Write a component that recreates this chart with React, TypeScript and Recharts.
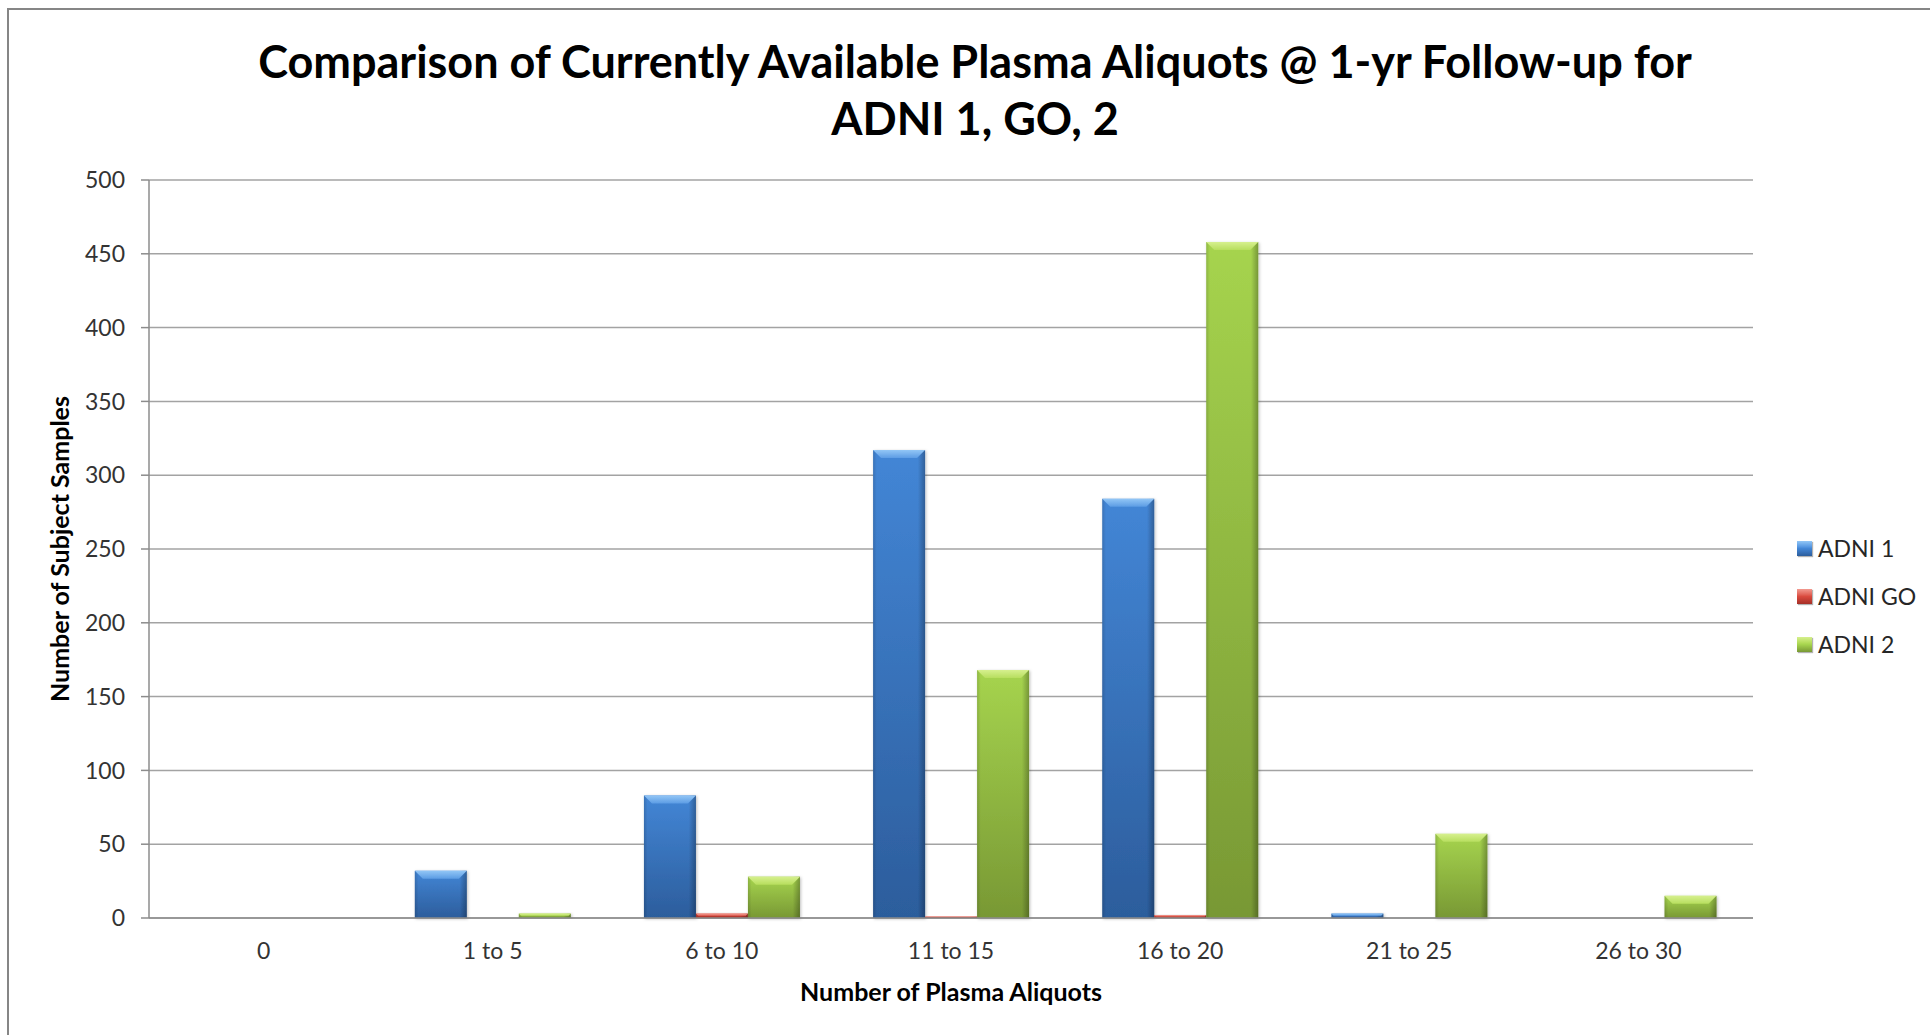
import React from 'react';
import { BarChart, Bar, XAxis, YAxis, CartesianGrid, Legend, Label } from 'recharts';

// ── Data ──────────────────────────────────────────────────────────────────────

const CATEGORIES = ['0', '1 to 5', '6 to 10', '11 to 15', '16 to 20', '21 to 25', '26 to 30'];
const ADNI_1 = [0, 32, 83, 317, 284, 3, 0];
const ADNI_GO = [0, 0, 3, 1, 2, 0, 0];
const ADNI_2 = [0, 3, 28, 168, 458, 57, 15];
const Y_TICKS = [0, 50, 100, 150, 200, 250, 300, 350, 400, 450, 500];

const data = CATEGORIES.map((name, i) => ({
  name,
  adni1: ADNI_1[i],
  adniGo: ADNI_GO[i],
  adni2: ADNI_2[i],
}));

// ── Palette ───────────────────────────────────────────────────────────────────

const TONES: Record<string, { top: string; bottom: string; hi: string; lo: string }> = {
  blue:  { top: '#4386d6', bottom: '#2c5d9c', hi: '#92c6f6', lo: '#5c9ce4' },
  red:   { top: '#d94a3e', bottom: '#a52f27', hi: '#f29a90', lo: '#e2665a' },
  green: { top: '#a6d44e', bottom: '#789834', hi: '#d6f08e', lo: '#b7de5e' },
};

const SERIES = [
  { key: 'adni1', name: 'ADNI 1', tone: 'blue' },
  { key: 'adniGo', name: 'ADNI GO', tone: 'red' },
  { key: 'adni2', name: 'ADNI 2', tone: 'green' },
];

const FONT = 'Lato, "Open Sans", sans-serif';

// ── Bevelled bar shape ───────────────────────────────────────────────────────

function BevelBar(props: any) {
  const { x, y, width, height, tone } = props;
  if (!height || height <= 0) return null;
  const b = Math.min(8, height / 2, width / 4);
  return (
    <g filter="url(#barShadow)">
      <rect x={x} y={y} width={width} height={height} fill={`url(#${tone}-body)`} />
      <rect x={x} y={y} width={width} height={height} fill="url(#side-shade)" />
      <polygon
        points={`${x},${y} ${x + width},${y} ${x + width - b},${y + b} ${x + b},${y + b}`}
        fill={`url(#${tone}-top)`}
      />
    </g>
  );
}

// ── Legend ────────────────────────────────────────────────────────────────────

function LegendList({ payload }: any) {
  // keep series order (the legend sorts by name otherwise)
  const items = [...(payload ?? [])].sort(
    (a: any, b: any) =>
      SERIES.findIndex((s) => s.name === a.value) - SERIES.findIndex((s) => s.name === b.value),
  );
  return (
    <div style={{ display: 'flex', flexDirection: 'column', fontFamily: FONT }}>
      {items.map((p: any) => {
        const s = SERIES.find((d) => d.name === p.value);
        const t = TONES[s?.tone ?? 'blue'];
        return (
          <div key={p.value} style={{ display: 'flex', alignItems: 'center', height: 48 }}>
            <span
              style={{
                width: 15, height: 15, marginRight: 6, boxSizing: 'border-box',
                background: `linear-gradient(180deg, ${t.hi} 0%, ${t.lo} 35%, ${t.top} 50%, ${t.bottom} 100%)`,
                boxShadow: '1px 1px 1px rgba(0,0,0,0.3)',
              }}
            />
            <span style={{ fontSize: 23, color: '#262626' }}>{p.value}</span>
          </div>
        );
      })}
    </div>
  );
}

// ── Main ──────────────────────────────────────────────────────────────────────

export default function App() {
  return (
    <div style={{ position: 'relative', width: 1930, height: 1035, background: '#fff', overflow: 'hidden' }}>
      <style>{'body{margin:0;background:#fff}'}</style>

      {/* frame */}
      <div
        style={{
          position: 'absolute', left: 7, top: 8, right: -10, bottom: -10,
          borderTop: '2px solid #868686', borderLeft: '2px solid #868686',
        }}
      />

      {/* title */}
      <div
        style={{
          position: 'absolute', left: 20, width: 1910, top: 33, textAlign: 'center',
          fontFamily: FONT, fontWeight: 700, fontSize: 45, lineHeight: '57px', color: '#000',
        }}
      >
        Comparison of Currently Available Plasma Aliquots @ 1-yr Follow-up for
        <br />
        ADNI 1, GO, 2
      </div>

      <BarChart
        width={1930}
        height={1035}
        data={data}
        margin={{ top: 180, right: 177, bottom: 57, left: 69 }}
        barCategoryGap="16%"
        barGap={0}
      >
        <defs>
          {Object.entries(TONES).map(([k, t]) => (
            <React.Fragment key={k}>
              <linearGradient id={`${k}-body`} x1="0" y1="0" x2="0" y2="1">
                <stop offset="0%" stopColor={t.top} />
                <stop offset="100%" stopColor={t.bottom} />
              </linearGradient>
              <linearGradient id={`${k}-top`} x1="0" y1="0" x2="0" y2="1">
                <stop offset="0%" stopColor={t.hi} />
                <stop offset="100%" stopColor={t.lo} />
              </linearGradient>
            </React.Fragment>
          ))}
          <linearGradient id="side-shade" x1="0" y1="0" x2="1" y2="0">
            <stop offset="0%" stopColor="#000" stopOpacity={0.14} />
            <stop offset="7%" stopColor="#000" stopOpacity={0} />
            <stop offset="86%" stopColor="#000" stopOpacity={0} />
            <stop offset="100%" stopColor="#000" stopOpacity={0.28} />
          </linearGradient>
          <filter id="barShadow" x="-20%" y="-20%" width="140%" height="140%">
            <feDropShadow dx="1" dy="1" stdDeviation="1.5" floodColor="#000" floodOpacity="0.25" />
          </filter>
        </defs>

        <CartesianGrid vertical={false} stroke="#a3a3a3" strokeWidth={1.5} />

        <XAxis
          dataKey="name"
          height={60}
          tickLine={false}
          tickSize={0}
          tickMargin={25}
          axisLine={{ stroke: '#8c8c8c', strokeWidth: 1.5 }}
          tick={{ fontSize: 23, fill: '#333', fontFamily: FONT }}
        >
          <Label
            value="Number of Plasma Aliquots"
            position="bottom"
            offset={5}
            style={{ fontSize: 25, fontWeight: 700, fill: '#000', fontFamily: FONT }}
          />
        </XAxis>

        <YAxis
          width={80}
          domain={[0, 500]}
          ticks={Y_TICKS}
          interval={0}
          tickSize={8}
          tickMargin={16}
          tickLine={{ stroke: '#8c8c8c', strokeWidth: 1.5 }}
          axisLine={{ stroke: '#8c8c8c', strokeWidth: 1.5 }}
          tick={{ fontSize: 23, fill: '#333', fontFamily: FONT }}
        >
          <Label
            content={({ viewBox }: any) => {
              const cx = viewBox.x - 10;
              const cy = viewBox.y + viewBox.height / 2;
              return (
                <text
                  x={cx}
                  y={cy}
                  transform={`rotate(-90 ${cx} ${cy})`}
                  textAnchor="middle"
                  dominantBaseline="central"
                  style={{ fontSize: 25, fontWeight: 700, fill: '#000', fontFamily: FONT }}
                >
                  Number of Subject Samples
                </text>
              );
            }}
          />
        </YAxis>

        <Legend
          layout="horizontal"
          align="center"
          verticalAlign="middle"
          content={<LegendList />}
          wrapperStyle={{ left: 1797, top: 524, width: 140, height: 144 }}
        />

        {SERIES.map((s) => (
          <Bar
            key={s.key}
            dataKey={s.key}
            name={s.name}
            fill={TONES[s.tone].top}
            isAnimationActive={false}
            shape={(p: any) => <BevelBar {...p} tone={s.tone} />}
          />
        ))}
      </BarChart>
    </div>
  );
}
